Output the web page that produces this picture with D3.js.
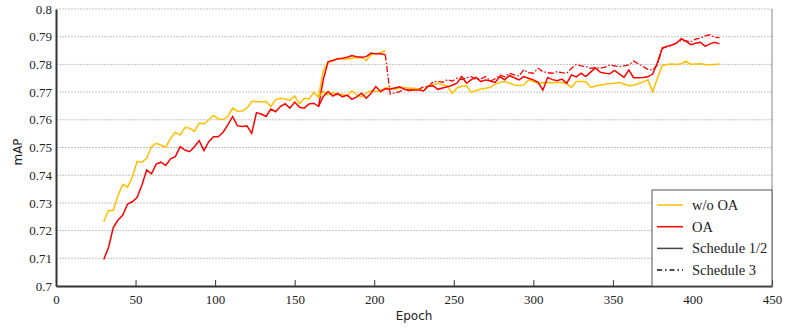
<!DOCTYPE html>
<html>
<head>
<meta charset="utf-8">
<script src="https://cdn.jsdelivr.net/npm/d3@7"></script>
<style>
  body { margin: 0; background: #fff; }
  svg { display: block; }
</style>
</head>
<body>
<svg id="chart"></svg>
<script>
// epochs shared by the two main curves
const epochs = [
  30, 33, 36, 39, 42, 45, 48, 51, 54, 57,
  60, 63, 66, 69, 72, 75, 78, 81, 84, 87,
  90, 93, 96, 99, 102, 105, 108, 111, 114, 117,
  120, 123, 126, 129, 132, 135, 138, 141, 144, 147,
  150, 153, 156, 159, 162, 165, 168, 171, 174, 177,
  180, 183, 186, 189, 192, 195, 198, 201, 204, 207,
  210, 213, 216, 219, 222, 225, 228, 231, 234, 237,
  240, 243, 246, 249, 252, 255, 258, 261, 264, 267,
  270, 273, 276, 279, 282, 285, 288, 291, 294, 297,
  300, 303, 306, 309, 312, 315, 318, 321, 324, 327,
  330, 333, 336, 339, 342, 345, 348, 351, 354, 357,
  360, 363, 366, 369, 372, 375, 378, 381, 384, 387,
  390, 393, 396, 399, 402, 405, 408, 411, 414, 417
];

// w/o OA, schedule 1/2 (main run)
const woOA = [
  0.7232, 0.7273, 0.7273, 0.7328, 0.7367, 0.7357, 0.7394, 0.745, 0.7447, 0.7461,
  0.7503, 0.7515, 0.7508, 0.7501, 0.7533, 0.7555, 0.7545, 0.7572, 0.757, 0.7558,
  0.7588, 0.7585, 0.76, 0.7616, 0.7603, 0.7601, 0.7612, 0.7642, 0.7631, 0.7632,
  0.7642, 0.7666, 0.7666, 0.7664, 0.7666, 0.7648, 0.7672, 0.7678, 0.7675, 0.767,
  0.7686, 0.7657, 0.7678, 0.7675, 0.7698, 0.7682, 0.7702, 0.769, 0.7698, 0.769,
  0.7692, 0.7686, 0.7704, 0.769, 0.7683, 0.7696, 0.7705, 0.7702, 0.7705, 0.7716,
  0.7714, 0.771, 0.7716, 0.7717, 0.7714, 0.7714, 0.771, 0.7705, 0.7722, 0.7727,
  0.7732, 0.7726, 0.7722, 0.7696, 0.7715, 0.7721, 0.7723, 0.7699, 0.7706, 0.7711,
  0.7714, 0.7717, 0.7728, 0.7735, 0.7738, 0.7732, 0.7726, 0.7724, 0.7726, 0.7744,
  0.7738, 0.7732, 0.7734, 0.7735, 0.7734, 0.7735, 0.7735, 0.773, 0.7717, 0.7738,
  0.7738, 0.7737, 0.7717, 0.7722, 0.7726, 0.7728, 0.773, 0.7732, 0.7735, 0.7729,
  0.7723, 0.7726, 0.773, 0.7737, 0.7744, 0.7702, 0.775, 0.7796, 0.78, 0.7801,
  0.78, 0.7802, 0.7812, 0.78, 0.7801, 0.7802, 0.78, 0.7799, 0.78, 0.7801
];

// OA, schedule 1/2 (main run)
const oa = [
  0.7096, 0.7139, 0.7211, 0.7238, 0.7256, 0.7296, 0.7304, 0.732, 0.7365, 0.7419,
  0.7405, 0.744, 0.7447, 0.7435, 0.7459, 0.7467, 0.7503, 0.7491, 0.7485, 0.7503,
  0.7525, 0.7489, 0.7521, 0.7539, 0.7539, 0.7555, 0.7582, 0.7612, 0.7579, 0.7576,
  0.7578, 0.7551, 0.7626, 0.7621, 0.7612, 0.7639, 0.7629, 0.7648, 0.7658, 0.7642,
  0.7664, 0.7645, 0.7642, 0.7657, 0.766, 0.7648, 0.7684, 0.7702, 0.7686, 0.7695,
  0.7683, 0.7689, 0.7674, 0.7683, 0.7696, 0.7678, 0.7696, 0.772, 0.7702, 0.7712,
  0.7711, 0.7715, 0.7719, 0.771, 0.7707, 0.7708, 0.7708, 0.7704, 0.7722, 0.7723,
  0.771, 0.7715, 0.7719, 0.7725, 0.7732, 0.7756, 0.7732, 0.7745, 0.7753, 0.7738,
  0.7744, 0.774, 0.7735, 0.7756, 0.7744, 0.776, 0.7752, 0.7744, 0.7756, 0.775,
  0.7744, 0.7735, 0.7707, 0.7753, 0.7745, 0.7741, 0.7747, 0.7732, 0.7762, 0.7755,
  0.7768, 0.7756, 0.7772, 0.7787, 0.7772, 0.7768, 0.7766, 0.7778, 0.7766, 0.7753,
  0.778, 0.7752, 0.7752, 0.7753, 0.7755, 0.7765, 0.7807, 0.7857, 0.7865, 0.787,
  0.7877, 0.7893, 0.7883, 0.7871, 0.7876, 0.788, 0.7865, 0.7874, 0.788, 0.7874
];

// early lr drop branch (solid)
const earlyEpochs = [165, 168, 171, 174, 177, 180, 183, 186, 189, 192, 195, 198, 201, 204, 207];
const woOAEarly = [0.7682, 0.778, 0.7806, 0.7814, 0.7819, 0.782, 0.7819, 0.7823, 0.7823, 0.7826, 0.7814, 0.7835, 0.7838, 0.7843, 0.785];
const oaEarly = [0.7648, 0.7745, 0.781, 0.7814, 0.782, 0.7822, 0.7826, 0.7832, 0.7828, 0.7826, 0.7828, 0.7841, 0.7838, 0.7838, 0.7835];

// schedule 3, OA (dash-dot)
const s3Epochs = [
  207,
  210, 213, 216, 219, 222, 225, 228, 231, 234, 237,
  240, 243, 246, 249, 252, 255, 258, 261, 264, 267,
  270, 273, 276, 279, 282, 285, 288, 291, 294, 297,
  300, 303, 306, 309, 312, 315, 318, 321, 324, 327,
  330, 333, 336, 339, 342, 345, 348, 351, 354, 357,
  360, 363, 366, 369, 372, 375, 378, 381, 384, 387,
  390, 393, 396, 399, 402, 405, 408, 411, 414, 417
];
const oaS3 = [
  0.7835,
  0.7693, 0.7697, 0.7702, 0.771, 0.7705, 0.7713, 0.771, 0.7719, 0.772, 0.7737,
  0.7739, 0.7735, 0.7745, 0.774, 0.775, 0.7745, 0.7752, 0.7756, 0.7745, 0.7748,
  0.7756, 0.774, 0.7748, 0.7762, 0.7755, 0.7768, 0.7762, 0.7758, 0.7781, 0.777,
  0.7768, 0.7786, 0.7774, 0.777, 0.7768, 0.7774, 0.777, 0.7768, 0.7786, 0.78,
  0.7795, 0.7792, 0.7786, 0.7788, 0.7786, 0.779, 0.7798, 0.7795, 0.7792, 0.7795,
  0.7798, 0.7812, 0.7802, 0.7792, 0.7782, 0.778, 0.7798, 0.786, 0.7864, 0.7868,
  0.7878, 0.7887, 0.7885, 0.7882, 0.7891, 0.7895, 0.7903, 0.7907, 0.7898, 0.7897
];

const xTicks = [0, 50, 100, 150, 200, 250, 300, 350, 400, 450];
const yTicks = [0.7, 0.71, 0.72, 0.73, 0.74, 0.75, 0.76, 0.77, 0.78, 0.79, 0.8];
const legendLabels = ["w/o OA", "OA", "Schedule 1/2", "Schedule 3"];

const W = 787, H = 328;
const margin = { top: 9, right: 15, bottom: 42, left: 56 };
const width = W - margin.left - margin.right;   // 716
const height = H - margin.top - margin.bottom;  // 277

const YELLOW = "#ffc000", RED = "#ff0000";
const serif = "'Liberation Serif', 'Times New Roman', serif";
const sans = "'DejaVu Sans', sans-serif";

const svg = d3.select("#chart").attr("width", W).attr("height", H);
const g = svg.append("g").attr("transform", `translate(${margin.left},${margin.top})`);

const x = d3.scaleLinear().domain([0, 450]).range([0, width]);
const y = d3.scaleLinear().domain([0.7, 0.8]).range([height, 0]);

// grid
g.append("g")
  .selectAll("line")
  .data(yTicks.slice(1))
  .enter()
  .append("line")
  .attr("x1", 0).attr("x2", width)
  .attr("y1", d => y(d)).attr("y2", d => y(d))
  .attr("stroke", "#c4c4c4")
  .attr("stroke-dasharray", "2,1");

// right frame
g.append("line")
  .attr("x1", width).attr("x2", width)
  .attr("y1", 0).attr("y2", height)
  .attr("stroke", "#888");

const line = d3.line()
  .x(d => x(d[0]))
  .y(d => y(d[1]));

const zip = (xs, ys) => xs.map((e, i) => [e, ys[i]]);

g.append("path")
  .attr("d", line(zip(s3Epochs, oaS3)))
  .attr("fill", "none").attr("stroke", RED)
  .attr("stroke-width", 1.3)
  .attr("stroke-dasharray", "6,2,1.5,2");

g.append("path")
  .attr("d", line(zip(earlyEpochs, woOAEarly)))
  .attr("fill", "none").attr("stroke", YELLOW).attr("stroke-width", 1.5);

g.append("path")
  .attr("d", line(zip(earlyEpochs, oaEarly)))
  .attr("fill", "none").attr("stroke", RED).attr("stroke-width", 1.5);

g.append("path")
  .attr("d", line(zip(epochs, woOA)))
  .attr("fill", "none").attr("stroke", YELLOW).attr("stroke-width", 1.5);

g.append("path")
  .attr("d", line(zip(epochs, oa)))
  .attr("fill", "none").attr("stroke", RED).attr("stroke-width", 1.5);

// x axis, ticks pointing inward
const xAxis = g.append("g")
  .attr("transform", `translate(0,${height})`)
  .call(d3.axisBottom(x).tickValues(xTicks).tickSizeInner(-6).tickSizeOuter(0).tickPadding(9));
xAxis.select(".domain").attr("stroke", "#333").attr("stroke-width", 2);
xAxis.selectAll(".tick line").attr("stroke", "#333");
xAxis.selectAll("text").attr("font-family", serif).attr("font-size", 13).attr("fill", "#222");

const yAxis = g.append("g")
  .call(d3.axisLeft(y).tickValues(yTicks).tickFormat(d3.format("~g")).tickSize(0).tickPadding(4));
yAxis.select(".domain").attr("stroke", "#333").attr("stroke-width", 2);
yAxis.selectAll("text").attr("font-family", serif).attr("font-size", 13).attr("fill", "#222");

svg.append("text")
  .attr("x", margin.left + width / 2)
  .attr("y", 320)
  .attr("text-anchor", "middle")
  .attr("font-family", sans).attr("font-size", 12).attr("fill", "#222")
  .text("Epoch");

svg.append("text")
  .attr("transform", "translate(22,152) rotate(-90)")
  .attr("text-anchor", "middle")
  .attr("font-family", sans).attr("font-size", 12).attr("fill", "#222")
  .text("mAP");

// legend
const legend = svg.append("g").attr("transform", "translate(652,190)");
legend.append("rect")
  .attr("width", 120).attr("height", 96)
  .attr("fill", "#fff").attr("stroke", "#555");

const legendStyles = [
  { color: YELLOW, dash: null },
  { color: RED, dash: null },
  { color: "#444", dash: null },
  { color: "#111", dash: "5,3,1.5,3" }
];

const item = legend.selectAll(".item")
  .data(legendLabels)
  .enter()
  .append("g")
  .attr("transform", (d, i) => `translate(0,${15 + i * 21.7})`);

item.append("line")
  .attr("x1", 5).attr("x2", 31)
  .attr("stroke", (d, i) => legendStyles[i].color)
  .attr("stroke-width", 1.5)
  .attr("stroke-dasharray", (d, i) => legendStyles[i].dash);

item.append("text")
  .attr("x", 40).attr("dy", "0.35em")
  .attr("font-family", serif).attr("font-size", 14.5).attr("fill", "#222")
  .text(d => d);
</script>
</body>
</html>
